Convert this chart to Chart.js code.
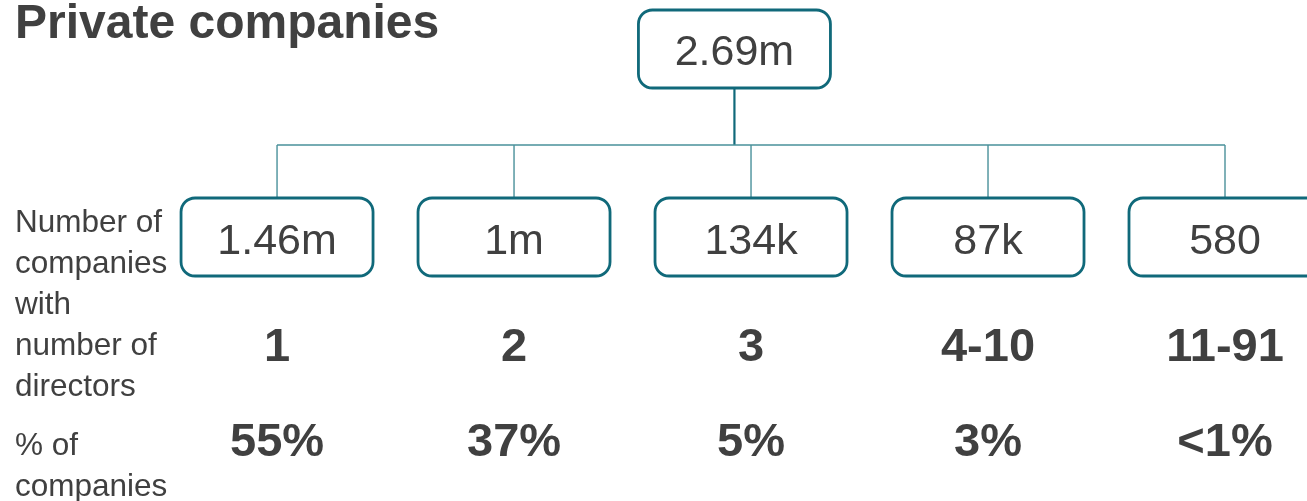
<!DOCTYPE html>
<html lang="en">
<head>
    <meta charset="UTF-8">
    <title>Private companies</title>
    <style>
        body {
            margin: 0;
            padding: 0;
            background: #fff;
        }
        .chart-container {
            position: relative;
            width: 1307px;
            height: 501px;
        }
    </style>
    <script src="https://cdn.jsdelivr.net/npm/chart.js"></script>
</head>
<body>
    <div class="chart-container">
        <canvas id="directorsChart"></canvas>
    </div>
    <script>
        // data
        var title = 'Private companies';
        var totalCompanies = '2.69m';
        var directorGroups = ['1', '2', '3', '4-10', '11-91'];
        var companyCounts = ['1.46m', '1m', '134k', '87k', '580'];
        var companyShares = ['55%', '37%', '5%', '3%', '<1%'];
        var rowLabelCount = ['Number of', 'companies', 'with', 'number of', 'directors'];
        var rowLabelShare = ['% of', 'companies'];

        var TEXT = '#404040';
        var TEAL = '#10697a';
        var TEAL_LIGHT = '#4a919b';
        var FONT = '"Liberation Sans", Arial, sans-serif';

        // rows on the (reversed) y scale; root sits a little left of the middle child
        var topRow = 49, childRow = 237, joinRow = 145, rootX = 1.93;

        function roundBox(ctx, cx, cy, w, h, r) {
            var x = cx - w / 2, y = cy - h / 2;
            ctx.beginPath();
            ctx.moveTo(x + r, y);
            ctx.lineTo(x + w - r, y);
            ctx.arcTo(x + w, y, x + w, y + r, r);
            ctx.lineTo(x + w, y + h - r);
            ctx.arcTo(x + w, y + h, x + w - r, y + h, r);
            ctx.lineTo(x + r, y + h);
            ctx.arcTo(x, y + h, x, y + h - r, r);
            ctx.lineTo(x, y + r);
            ctx.arcTo(x, y, x + r, y, r);
            ctx.closePath();
            ctx.fillStyle = '#fff';
            ctx.fill();
            ctx.lineWidth = 2.8;
            ctx.strokeStyle = TEAL;
            ctx.stroke();
        }

        var treePlugin = {
            id: 'tree',
            afterDatasetsDraw: function (chart) {
                var ctx = chart.ctx;
                var ys = chart.scales.y;
                var kids = chart.getDatasetMeta(0).data;
                var root = chart.getDatasetMeta(1).data[0];
                var boxW = 192, boxH = 78;
                ctx.save();

                // connectors
                var yJoin = ys.getPixelForValue(joinRow);
                ctx.strokeStyle = TEAL;
                ctx.lineWidth = 2.2;
                ctx.beginPath();
                ctx.moveTo(root.x, root.y + boxH / 2);
                ctx.lineTo(root.x, yJoin);
                ctx.stroke();
                ctx.strokeStyle = TEAL_LIGHT;
                ctx.lineWidth = 1.4;
                ctx.beginPath();
                ctx.moveTo(kids[0].x, yJoin);
                ctx.lineTo(kids[kids.length - 1].x, yJoin);
                kids.forEach(function (p) {
                    ctx.moveTo(p.x, yJoin);
                    ctx.lineTo(p.x, p.y - boxH / 2);
                });
                ctx.stroke();

                // boxes
                ctx.textAlign = 'center';
                ctx.textBaseline = 'alphabetic';
                roundBox(ctx, root.x, root.y, boxW, boxH, 14);
                ctx.fillStyle = TEXT;
                ctx.font = '43px ' + FONT;
                ctx.fillText(totalCompanies, root.x, root.y + 16);
                kids.forEach(function (p, i) {
                    roundBox(ctx, p.x, p.y, boxW, boxH, 14);
                    ctx.fillStyle = TEXT;
                    ctx.font = '43px ' + FONT;
                    ctx.fillText(companyCounts[i], p.x, p.y + 17);
                    ctx.font = 'bold 47px ' + FONT;
                    ctx.fillText(directorGroups[i], p.x, ys.getPixelForValue(361));
                    ctx.fillText(companyShares[i], p.x, ys.getPixelForValue(456));
                });

                // row labels and title
                ctx.textAlign = 'left';
                ctx.font = '31.5px ' + FONT;
                rowLabelCount.forEach(function (t, i) {
                    ctx.fillText(t, 15, ys.getPixelForValue(232 + i * 41));
                });
                rowLabelShare.forEach(function (t, i) {
                    ctx.fillText(t, 15, ys.getPixelForValue(455 + i * 41));
                });
                ctx.font = 'bold 48px ' + FONT;
                ctx.fillText(title, 15, ys.getPixelForValue(38));
                ctx.restore();
            }
        };

        var ctx1 = document.getElementById('directorsChart').getContext('2d');
        var directorsChart = new Chart(ctx1, {
            type: 'scatter',
            data: {
                datasets: [{
                    label: 'Companies by directors',
                    data: directorGroups.map(function (g, i) { return { x: i, y: childRow }; }),
                    pointRadius: 0
                }, {
                    label: 'All private companies',
                    data: [{ x: rootX, y: topRow }],
                    pointRadius: 0
                }]
            },
            options: {
                responsive: true,
                maintainAspectRatio: false,
                animation: false,
                layout: { padding: 0 },
                plugins: {
                    legend: { display: false },
                    tooltip: { enabled: false }
                },
                scales: {
                    x: { type: 'linear', display: false, min: -1.169, max: 4.346 },
                    y: { type: 'linear', display: false, min: 0, max: 501, reverse: true }
                }
            },
            plugins: [treePlugin]
        });
    </script>
</body>
</html>
